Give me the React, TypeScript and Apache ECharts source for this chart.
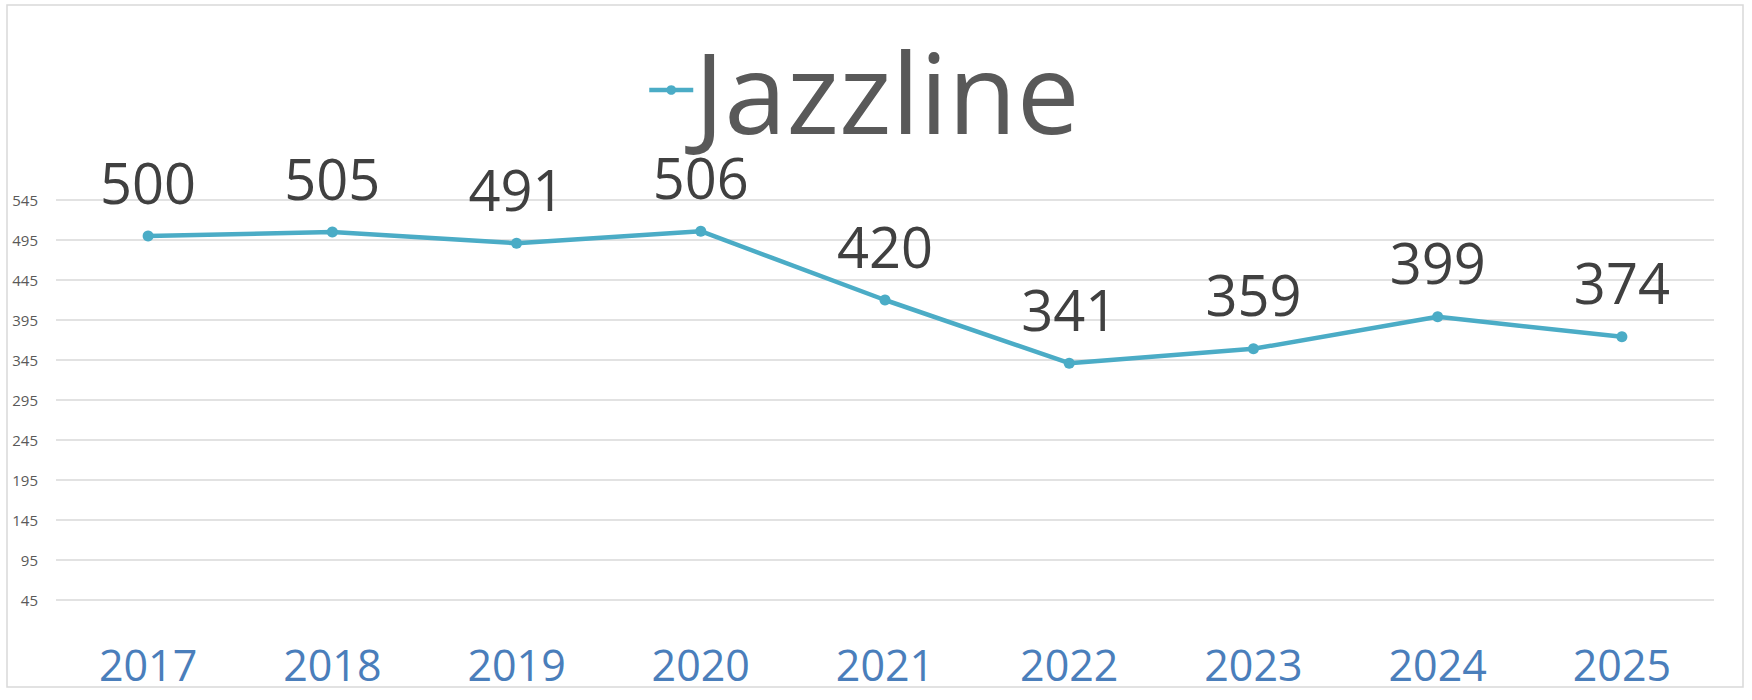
import React, { useEffect, useRef } from "react";
import * as echarts from "echarts";

const categories = ["2017", "2018", "2019", "2020", "2021", "2022", "2023", "2024", "2025"];
const jazzline = [500, 505, 491, 506, 420, 341, 359, 399, 374];
const seriesName = "Jazzline";
const yMin = 45;
const yMax = 545;
const yStep = 50;

export default function App() {
  const ref = useRef<HTMLDivElement>(null);
  useEffect(() => {
    if (!ref.current) return;
    const chart = echarts.init(ref.current, undefined, { renderer: "svg" });
    chart.setOption({
      animation: false,
      backgroundColor: "#ffffff",
      textStyle: { fontFamily: "Open Sans" },
      graphic: [
        {
          type: "rect",
          shape: { x: 7, y: 5, width: 1736, height: 682 },
          style: { fill: "none", stroke: "#d9d9d9", lineWidth: 1.5 },
          silent: true,
        },
      ],
      legend: {
        show: true,
        left: 647,
        top: 34,
        padding: 0,
        itemWidth: 44,
        itemHeight: 12,
        itemStyle: { borderWidth: 0 },
        lineStyle: { width: 4.5 },
        data: [{ name: seriesName }],
        textStyle: {
          fontSize: 112,
          lineHeight: 100,
          color: "#595959",
          fontFamily: "Open Sans",
          padding: [0, 0, 0, -4],
        },
      },
      grid: { left: 56, right: 38, top: 200, bottom: 100, containLabel: false },
      xAxis: {
        type: "category",
        data: categories,
        boundaryGap: true,
        axisLine: { show: false },
        axisTick: { show: false },
        axisLabel: { fontSize: 43, color: "#4a7ebb", margin: 43, fontFamily: "Open Sans" },
      },
      yAxis: {
        type: "value",
        min: yMin,
        max: yMax,
        interval: yStep,
        axisLine: { show: false },
        axisTick: { show: false },
        axisLabel: { fontSize: 15, color: "#595959", margin: 18, fontFamily: "Open Sans" },
        splitLine: { show: true, lineStyle: { color: "#d9d9d9", width: 1.5 } },
      },
      series: [
        {
          name: seriesName,
          type: "line",
          data: jazzline,
          symbol: "circle",
          symbolSize: 11,
          itemStyle: { color: "#4bacc6" },
          lineStyle: { color: "#4bacc6", width: 4.5 },
          label: {
            show: true,
            position: "top",
            distance: 26,
            fontSize: 56,
            lineHeight: 46,
            color: "#404040",
            fontFamily: "Open Sans",
          },
        },
      ],
    });
    return () => chart.dispose();
  }, []);
  return <div ref={ref} style={{ position: "absolute", left: 0, top: 0, width: 1752, height: 700 }} />;
}
